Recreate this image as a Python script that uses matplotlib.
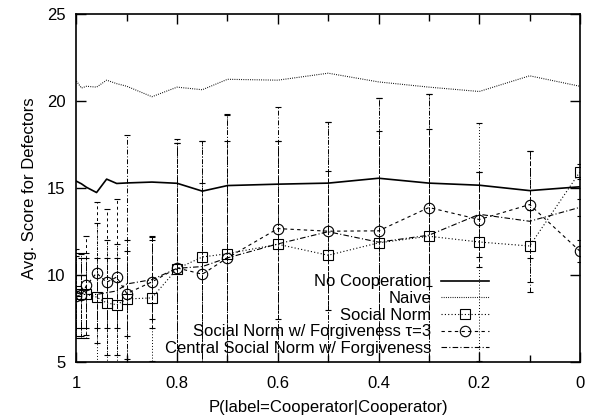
import matplotlib
matplotlib.use("Agg")
import matplotlib.pyplot as plt
from matplotlib.lines import Line2D

plt.rcParams['font.family'] = ['Liberation Sans', 'DejaVu Sans']

# ---------------- data ----------------
x = [1.0, 0.99, 0.98, 0.96, 0.94, 0.92, 0.90, 0.85, 0.80, 0.75, 0.70,
     0.60, 0.50, 0.40, 0.30, 0.20, 0.10, 0.0]

no_coop = [15.40, 15.25, 15.05, 14.75, 15.52, 15.27, 15.30, 15.35, 15.28, 14.83,
           15.15, 15.23, 15.29, 15.57, 15.29, 15.17, 14.86, 15.08]

naive = [21.15, 20.75, 20.85, 20.80, 21.20, 21.00, 20.85, 20.25, 20.80, 20.65,
         21.25, 21.20, 21.60, 21.10, 20.80, 20.55, 21.45, 20.85]

sn = [9.10, 8.95, 8.90, 8.75, 8.41, 8.31, 8.64, 8.70, 10.38, 11.05,
      11.24, 11.78, 11.15, 11.86, 12.24, 11.91, 11.68, 15.94]
sn_low = [6.40, 6.40, 6.40, 4.50, 4.80, 4.80, 5.20, 5.10, 3.00, 4.40,
          3.20, 4.00, 3.50, 3.50, 4.00, 5.07, 9.60, 15.52]
sn_high = [11.30, 11.30, 11.30, 13.00, 12.00, 11.80, 12.00, 12.24, 17.82, 17.70,
           19.23, 17.70, 18.80, 20.20, 20.40, 18.75, 13.74, 16.36]

snf = [8.80, 8.85, 9.42, 10.13, 9.60, 9.90, 8.95, 9.62, 10.42, 10.06,
       11.00, 12.68, 12.53, 12.55, 13.89, 13.20, 14.06, 11.38]
snf_low = [6.50, 6.50, 6.60, 6.10, 5.40, 5.40, 6.50, 7.00, 3.50, 4.85,
           4.30, 7.50, 8.00, 6.80, 9.40, 10.50, 11.00, 10.77]
snf_high = [11.10, 11.20, 12.24, 14.20, 13.80, 14.40, 11.40, 12.20, 17.60, 15.27,
            17.70, 17.70, 16.00, 18.30, 18.40, 15.94, 17.15, 12.00]

csn = [9.00, 8.90, 8.90, 8.90, 9.00, 9.10, 9.50, 9.75, 10.40, 10.50,
       11.00, 11.80, 12.50, 11.90, 12.30, 13.50, 13.10, 13.90]
csn_low = [7.00, 7.00, 7.00, 7.00, 7.00, 7.00, 3.00, 7.50, 3.00, 3.00,
           3.00, 3.00, 3.00, 3.00, 3.00, 11.05, 9.05, 13.40]
csn_high = [11.50, 11.00, 11.00, 11.00, 11.00, 11.00, 18.05, 12.00, 17.57, 17.70,
            19.20, 19.67, 18.78, 20.20, 20.40, 15.94, 17.15, 14.40]

labels = ["No Cooperation", "Naive", "Social Norm",
          "Social Norm w/ Forgiveness \u03c4=3",
          "Central Social Norm w/ Forgiveness"]

# ---------------- styles ----------------
ls_naive = (0, (0.8, 1.2))
ls_sn = (0, (1, 2))
ls_snf = (0, (3, 3))
ls_csn = (0, (5, 2, 1, 2))
FS = 12

fig = plt.figure(figsize=(5.97, 4.17), dpi=100)
ax = fig.add_axes([0.128, 0.131, 0.8435, 0.8355])

ax.plot(x, no_coop, color='black', lw=1.2, ls='-')
ax.plot(x, naive, color='black', lw=0.8, ls=ls_naive)


def err_series(y, lo, hi, ls, marker):
    yerr = [[yy - l for yy, l in zip(y, lo)], [h - yy for yy, h in zip(y, hi)]]
    cont = ax.errorbar(x, y, yerr=yerr, color='black', lw=0.8, ls=ls,
                       marker=marker, ms=7.5 if marker else 0,
                       mfc='none', mec='black', mew=0.8,
                       capsize=2.5, capthick=0.7, elinewidth=0.7)
    for lc in cont[2]:
        lc.set_linestyle(ls)
    return cont


err_series(sn, sn_low, sn_high, ls_sn, 's')
err_series(snf, snf_low, snf_high, ls_snf, 'o')
err_series(csn, csn_low, csn_high, ls_csn, None)

ax.set_xlim(1, 0)
ax.set_ylim(5, 25)
ax.set_xticks([1, 0.8, 0.6, 0.4, 0.2, 0])
ax.set_xticklabels(["1", "0.8", "0.6", "0.4", "0.2", "0"])
ax.set_xticks([0.9, 0.7, 0.5, 0.3, 0.1], minor=True)
ax.set_yticks([5, 10, 15, 20, 25])
ax.tick_params(which='both', direction='in', top=True, right=True,
               labelsize=FS, pad=8, width=1)
ax.tick_params(axis='x', which='both', pad=10)
ax.tick_params(which='major', length=7)
ax.tick_params(which='minor', length=5)
for s in ax.spines.values():
    s.set_linewidth(1.2)

ax.set_xlabel("P(label=Cooperator|Cooperator)", fontsize=FS, labelpad=6)
ax.set_ylabel("Avg. Score for Defectors", fontsize=FS, labelpad=7)

handles = [
    Line2D([], [], color='black', lw=1.2, ls='-'),
    Line2D([], [], color='black', lw=0.8, ls=ls_naive),
    Line2D([], [], color='black', lw=0.8, ls=ls_sn, marker='s', ms=7.5,
           mfc='none', mec='black', mew=0.8),
    Line2D([], [], color='black', lw=0.8, ls=ls_snf, marker='o', ms=7.5,
           mfc='none', mec='black', mew=0.8),
    Line2D([], [], color='black', lw=0.8, ls=ls_csn),
]
leg = fig.legend(handles, labels, loc='lower right',
                 bbox_to_anchor=(489 / 597, 1 - 356 / 417),
                 bbox_transform=fig.transFigure,
                 frameon=False, markerfirst=False, fontsize=FS,
                 handlelength=2.9, handletextpad=0.55, labelspacing=0.1,
                 borderpad=0, borderaxespad=0)

fig.savefig("out.png", dpi=100)
